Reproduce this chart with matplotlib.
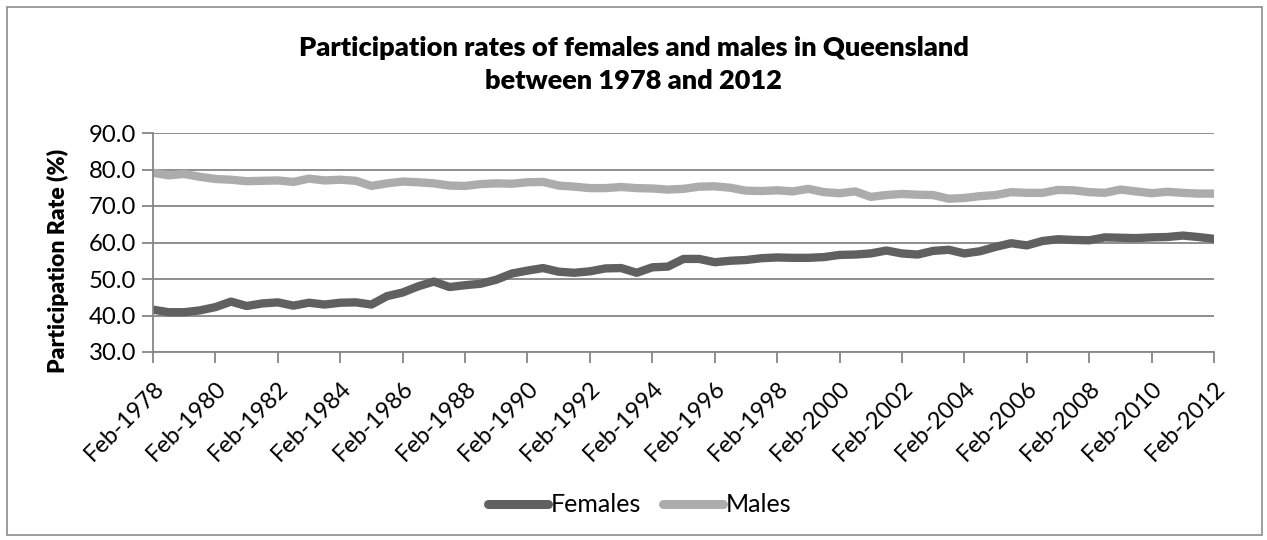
import numpy as np
import matplotlib
matplotlib.use("Agg")
import matplotlib.pyplot as plt
from matplotlib.patches import Rectangle

plt.rcParams['font.family'] = ['Lato', 'DejaVu Sans']

# half-yearly readings, Feb-1978 .. Feb-2012
years = np.arange(1978.0, 2012.01, 0.5)

females = [41.6, 40.9, 40.9, 41.4, 42.3, 43.8, 42.6, 43.3, 43.6, 42.7,
           43.5, 43.0, 43.5, 43.6, 43.0, 45.3, 46.3, 48.0, 49.3, 47.8,
           48.3, 48.7, 49.8, 51.5, 52.3, 53.0, 52.0, 51.7, 52.1, 52.9,
           53.0, 51.7, 53.2, 53.4, 55.5, 55.5, 54.6, 55.0, 55.2, 55.7,
           55.9, 55.8, 55.8, 56.0, 56.6, 56.7, 57.0, 57.8, 57.0, 56.7,
           57.7, 58.0, 57.0, 57.6, 58.8, 59.8, 59.2, 60.4, 60.9, 60.7,
           60.6, 61.4, 61.3, 61.2, 61.4, 61.5, 61.9, 61.5, 61.0]

males = [79.1, 78.4, 78.8, 78.0, 77.4, 77.2, 76.8, 76.9, 77.0, 76.6,
         77.5, 77.0, 77.2, 76.9, 75.5, 76.2, 76.7, 76.5, 76.2, 75.6,
         75.5, 76.0, 76.2, 76.1, 76.5, 76.6, 75.6, 75.3, 74.9, 74.9,
         75.2, 74.9, 74.8, 74.5, 74.7, 75.3, 75.4, 75.0, 74.2, 74.1,
         74.3, 74.0, 74.7, 73.8, 73.5, 74.0, 72.5, 73.0, 73.3, 73.1,
         73.0, 72.0, 72.2, 72.7, 73.0, 73.8, 73.6, 73.6, 74.4, 74.3,
         73.8, 73.6, 74.5, 74.0, 73.5, 73.9, 73.6, 73.4, 73.4]

tick_years = list(range(1978, 2013, 2))
tick_labels = ['Feb-%d' % y for y in tick_years]

fig = plt.figure(figsize=(12.67, 5.4), dpi=100)
ax = fig.add_axes([153/1267, 1 - 352/540, (1214 - 153)/1267, (352 - 133)/540])

# outer chart border
fig.patches.append(Rectangle((7/1267, 5/540), 1255/1267, 528/540,
                             transform=fig.transFigure, fill=False,
                             edgecolor='#8c8c8c', linewidth=1.2))

ax.plot(years, females, color='#606060', linewidth=6, solid_capstyle='round',
        solid_joinstyle='round', label='Females')
ax.plot(years, males, color='#acacac', linewidth=6, solid_capstyle='round',
        solid_joinstyle='round', label='Males')

ax.set_xlim(1978, 2012)
ax.set_ylim(30, 90)
ax.set_yticks(np.arange(30, 91, 10))
ax.set_yticklabels(['%.1f' % v for v in np.arange(30, 91, 10)], fontsize=17.2)
ax.set_xticks(tick_years)
ax.set_xticklabels(tick_labels, rotation=45, ha='right', rotation_mode='anchor',
                   fontsize=17)
ax.tick_params(axis='both', color='#868686', width=1.3, length=8)
ax.tick_params(axis='x', pad=10)
ax.tick_params(axis='y', pad=4)

ax.grid(axis='y', color='#868686', linewidth=1.3)
ax.set_axisbelow(True)
for s in ['top', 'right']:
    ax.spines[s].set_visible(False)
for s in ['left', 'bottom']:
    ax.spines[s].set_color('#868686')
    ax.spines[s].set_linewidth(1.3)

fig.text(58/1267, 1 - 261/540, 'Participation Rate (%)', rotation=90,
         ha='center', va='center', fontsize=16.5, fontweight='heavy')

fig.text(0.5, 1 - 48/540, 'Participation rates of females and males in Queensland',
         ha='center', va='center', fontsize=19.5, fontweight='heavy')
fig.text(0.5, 1 - 81/540, 'between 1978 and 2012',
         ha='center', va='center', fontsize=19.5, fontweight='heavy')

fig.legend(loc='center', bbox_to_anchor=(0.505, 1 - 505/540), ncol=2,
           frameon=False, fontsize=18, handlelength=2.4, handletextpad=0.1,
           columnspacing=0.9)
for line in fig.legends[0].get_lines():
    line.set_linewidth(6.5)
    line.set_solid_capstyle('round')

fig.savefig('out.png', dpi=100)
